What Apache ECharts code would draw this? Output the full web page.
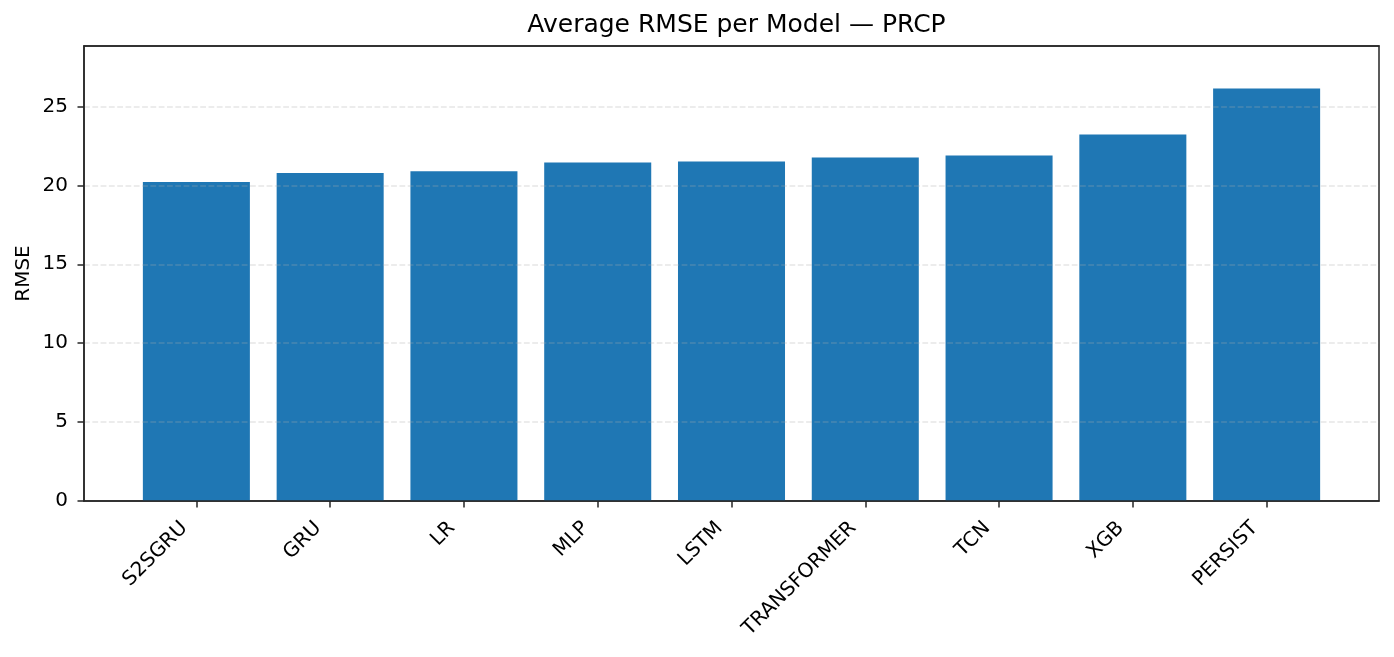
<!DOCTYPE html>
<html>
<head>
<meta charset="utf-8">
<script src="https://cdn.jsdelivr.net/npm/echarts@6/dist/echarts.min.js"></script>
<style>
html,body{margin:0;padding:0;background:#fff;}
#chart{width:1394px;height:657px;}
</style>
</head>
<body>
<div id="chart"></div>
<script>
const categories = ["S2SGRU","GRU","LR","MLP","LSTM","TRANSFORMER","TCN","XGB","PERSIST"];
const rmseValues = [20.21, 20.78, 20.90, 21.45, 21.51, 21.76, 21.89, 23.23, 26.13];
const yTicks = [0, 5, 10, 15, 20, 25];

const FONT = "DejaVu Sans";
const gridLeft = 84, gridRight = 15, gridTop = 46, gridBottom = 156;
const xMin = -0.84, xMax = categories.length - 1 + 0.84;
const plotW = 1394 - gridLeft - gridRight;
const barW = 0.8 * plotW / (xMax - xMin);
const idx = categories.map((c, i) => i);
const plotCenterX = gridLeft + plotW / 2;

const chart = echarts.init(document.getElementById('chart'), null, {renderer: 'canvas'});
chart.setOption({
  animation: false,
  backgroundColor: '#ffffff',
  title: {
    text: 'Average RMSE per Model \u2014 PRCP',
    left: plotCenterX,
    textAlign: 'center',
    top: 8,
    textStyle: {fontFamily: FONT, fontSize: 25, fontWeight: 'normal', color: '#000'}
  },
  grid: {
    left: gridLeft, right: gridRight, top: gridTop, bottom: gridBottom,
    show: true, borderColor: '#262626', borderWidth: 1.5, backgroundColor: 'transparent'
  },
  xAxis: [{
    type: 'value',
    min: xMin, max: xMax,
    zlevel: 1, z: 10,
    axisLine: {show: true, onZero: false, lineStyle: {color: '#262626', width: 1.5}},
    axisTick: {show: true, inside: false, length: 6.5, customValues: idx, lineStyle: {color: '#262626', width: 1.5}},
    splitLine: {show: false},
    axisLabel: {
      customValues: idx,
      rotate: 45,
      margin: 12,
      padding: [0, 17, 0, 0],
      fontFamily: FONT, fontSize: 20, color: '#000',
      formatter: v => categories[Math.round(v)]
    }
  }, {
    type: 'value',
    position: 'top',
    min: xMin, max: xMax,
    zlevel: 1, z: 10,
    axisLine: {show: true, onZero: false, lineStyle: {color: '#262626', width: 1.5}},
    axisTick: {show: false},
    axisLabel: {show: false},
    splitLine: {show: false}
  }],
  yAxis: {
    type: 'value',
    min: 0, max: 28.83, interval: 5,
    zlevel: 1,
    name: 'RMSE',
    nameLocation: 'middle',
    nameRotate: 90,
    nameGap: 50,
    nameMoveOverlap: false,
    nameTextStyle: {fontFamily: FONT, fontSize: 20, color: '#000'},
    axisLine: {show: true, onZero: false, lineStyle: {color: '#262626', width: 1.5}},
    axisTick: {show: true, inside: false, length: 6.5, lineStyle: {color: '#262626', width: 1.5}},
    axisLabel: {
      showMaxLabel: false,
      margin: 16,
      fontFamily: FONT, fontSize: 20, color: '#000',
      formatter: v => (yTicks.indexOf(v) >= 0 ? String(v) : '')
    },
    splitLine: {show: true, showMinLine: false, showMaxLine: false,
      lineStyle: {color: 'rgba(176,176,176,0.3)', width: 1.5, type: [5.8, 2.5]}}
  },
  series: [{
    type: 'bar',
    xAxisIndex: 0,
    data: rmseValues.map((v, i) => [i, v]),
    barWidth: barW,
    itemStyle: {color: '#1f77b4'}
  }]
});
</script>
</body>
</html>
